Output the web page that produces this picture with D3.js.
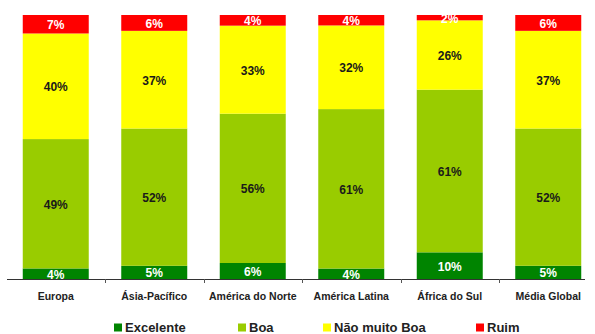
<!DOCTYPE html>
<html>
<head>
<meta charset="utf-8">
<script src="https://cdn.jsdelivr.net/npm/d3@7"></script>
<style>
  html, body { margin: 0; padding: 0; background: #fff; }
  svg { display: block; font-family: "Liberation Sans", Arial, sans-serif; }
</style>
</head>
<body>
<svg id="chart" width="595" height="334"></svg>
<script>
const categories = ["Europa", "Ásia-Pacífico", "América do Norte", "América Latina", "África do Sul", "Média Global"];
const seriesNames = ["Excelente", "Boa", "Não muito Boa", "Ruim"];
const excelente = [4, 5, 6, 4, 10, 5];
const boa = [49, 52, 56, 61, 61, 52];
const naoMuitoBoa = [40, 37, 33, 32, 26, 37];
const ruim = [7, 6, 4, 4, 2, 6];
const colors = ["#008400", "#99CC00", "#FFFF00", "#FF0000"];
const labelColors = ["#ffffff", "#1a1a1a", "#1a1a1a", "#ffffff"];

const seriesValues = [excelente, boa, naoMuitoBoa, ruim];
const rows = categories.map((c, i) => {
  const r = { cat: c };
  seriesNames.forEach((s, j) => { r[s] = seriesValues[j][i]; });
  return r;
});

const svg = d3.select("#chart");

const x = d3.scaleBand().domain(categories).range([6.5, 597.5]).paddingInner(0.33).paddingOuter(0.165);
const y = d3.scaleLinear().domain([0, 1]).range([279, 15]);

const stack = d3.stack().keys(seriesNames).offset(d3.stackOffsetExpand);
const stacked = stack(rows);

const groups = svg.append("g").selectAll("g")
  .data(stacked).join("g")
  .attr("fill", (d, i) => colors[i]);

groups.selectAll("rect")
  .data(d => d.map(v => Object.assign(v, { key: d.key })))
  .join("rect")
  .attr("x", d => x(d.data.cat))
  .attr("width", x.bandwidth())
  .attr("y", d => y(d[1]))
  .attr("height", d => y(d[0]) - y(d[1]));

// value labels
stacked.forEach((s, i) => {
  svg.append("g").selectAll("text")
    .data(s).join("text")
    .attr("x", d => x(d.data.cat) + x.bandwidth() / 2)
    .attr("y", d => (y(d[0]) + y(d[1])) / 2 + 5)
    .attr("text-anchor", "middle")
    .attr("font-size", "12px")
    .attr("font-weight", "bold")
    .attr("fill", labelColors[i])
    .text(d => d.data[s.key] + "%");
});

// axis
const axis = svg.append("g").attr("transform", "translate(0,279)");
axis.append("line")
  .attr("x1", 7).attr("x2", 585)
  .attr("y1", 0.5).attr("y2", 0.5)
  .attr("stroke", "#333").attr("stroke-width", 1);
const bounds = categories.slice(1).map(c => x(c) - x.step() * x.paddingInner() / 2);
axis.selectAll("line.tick").data(bounds).join("line")
  .attr("class", "tick")
  .attr("x1", d => Math.round(d) + 0.5).attr("x2", d => Math.round(d) + 0.5)
  .attr("y1", 0).attr("y2", 4)
  .attr("stroke", "#555");
axis.selectAll("text").data(categories).join("text")
  .attr("x", d => x(d) + x.bandwidth() / 2)
  .attr("y", 21)
  .attr("text-anchor", "middle")
  .attr("font-size", "10.5px")
  .attr("font-weight", "bold")
  .attr("fill", "#222")
  .text(d => d);

// legend
const legendX = [114, 238, 323, 476];
const legend = svg.append("g").selectAll("g").data(seriesNames).join("g")
  .attr("transform", (d, i) => `translate(${legendX[i]},323)`);
legend.append("rect").attr("width", 8).attr("height", 8).attr("y", 0.5)
  .attr("fill", (d, i) => colors[i]);
legend.append("text").attr("x", 11).attr("y", 8.5)
  .attr("font-size", "13px").attr("font-weight", "bold").attr("fill", "#222")
  .text(d => d);
</script>
</body>
</html>
